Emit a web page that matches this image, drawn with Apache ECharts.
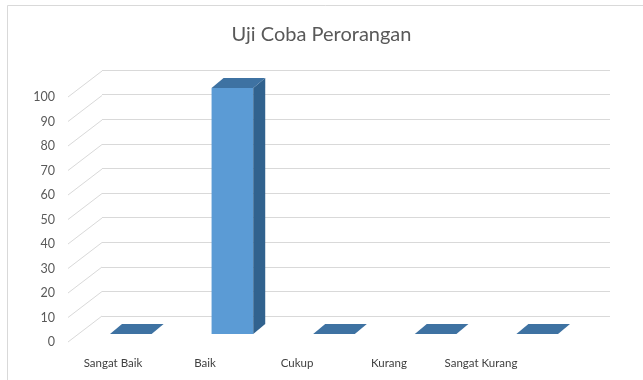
<!DOCTYPE html>
<html>
<head>
<meta charset="utf-8">
<script src="https://cdn.jsdelivr.net/npm/echarts@6/dist/echarts.min.js"></script>
<style>html,body{margin:0;padding:0;background:#fff}#c{width:643px;height:380px}</style>
</head>
<body>
<div id="c"></div>
<script>
const title = 'Uji Coba Perorangan';
const categories = ['Sangat Baik', 'Baik', 'Cukup', 'Kurang', 'Sangat Kurang'];
const values = [0, 100, 0, 0, 0];
const yTicks = [0, 10, 20, 30, 40, 50, 60, 70, 80, 90, 100];

const DEPTH_X = 34, DEPTH_Y = -26;   // side wall depth
const BAR_DX = 12, BAR_DY = -10;     // bar depth
const FONT = 'Lato, "Open Sans", sans-serif';

const chart = echarts.init(document.getElementById('c'), null, {renderer: 'canvas'});
chart.setOption({
  animation: false,
  backgroundColor: '#ffffff',
  title: {
    text: title, left: 'center', top: 20,
    textStyle: {fontFamily: FONT, fontSize: 20, fontWeight: 'normal', color: '#595959'}
  },
  graphic: [{
    type: 'rect', shape: {x: 7.5, y: 5.5, width: 800, height: 500},
    style: {fill: 'none', stroke: '#d9d9d9', lineWidth: 1}, z: -10
  }],
  grid: [
    {left: 102, right: 33, top: 70, bottom: 64},   // back wall
    {left: 68, right: 67, top: 97, bottom: 38},    // front plane (labels + side wall)
    {left: 80, right: 55, top: 88, bottom: 46},    // bar plane
    {left: 67, right: 116, top: 300, bottom: 26}   // category labels
  ],
  xAxis: [
    {gridIndex: 0, type: 'category', data: categories, show: false},
    {gridIndex: 1, type: 'value', min: 0, max: 1, show: false},
    {gridIndex: 2, type: 'category', data: categories, show: false},
    {gridIndex: 3, type: 'category', data: categories,
      axisLine: {show: false}, axisTick: {show: false}, splitLine: {show: false},
      axisLabel: {fontFamily: FONT, fontSize: 11.5, color: '#404040', margin: 3, interval: 0}}
  ],
  yAxis: [
    {gridIndex: 0, type: 'value', min: 0, max: 100, interval: 10,
      axisLine: {show: false}, axisTick: {show: false}, axisLabel: {show: false},
      splitLine: {show: true, lineStyle: {color: '#d9d9d9', width: 1}}},
    {gridIndex: 1, type: 'value', min: 0, max: 100, interval: 10,
      axisLine: {show: false}, axisTick: {show: false}, splitLine: {show: false},
      axisLabel: {fontFamily: FONT, fontSize: 12.5, color: '#595959', margin: 13}},
    {gridIndex: 2, type: 'value', min: 0, max: 100, show: false},
    {gridIndex: 3, type: 'value', show: false}
  ],
  series: [
    {
      type: 'custom', xAxisIndex: 1, yAxisIndex: 1, z: 1,
      data: yTicks.map(v => [0, v]),
      renderItem: function (params, api) {
        const p = api.coord([api.value(0), api.value(1)]);
        return {
          type: 'line',
          shape: {x1: p[0], y1: p[1], x2: p[0] + DEPTH_X, y2: p[1] + DEPTH_Y},
          style: {stroke: '#d9d9d9', lineWidth: 1}
        };
      }
    },
    {
      type: 'custom', xAxisIndex: 2, yAxisIndex: 2, z: 5,
      data: values.map((v, i) => [i, v]),
      renderItem: function (params, api) {
        const i = api.value(0), v = api.value(1);
        const top = api.coord([i, v]);
        const bot = api.coord([i, 0]);
        const w = api.size([1, 0])[0] * 0.41;
        const x0 = top[0] - w / 2, x1 = top[0] + w / 2;
        const yt = top[1], yb = bot[1];
        const children = [];
        if (yb - yt > 0.5) {
          children.push({type: 'rect', shape: {x: x0, y: yt, width: w, height: yb - yt},
            style: {fill: '#5b9bd5'}});
          children.push({type: 'polygon', shape: {points: [[x1, yt], [x1 + BAR_DX, yt + BAR_DY], [x1 + BAR_DX, yb + BAR_DY], [x1, yb]]},
            style: {fill: '#31628e'}});
        }
        children.push({type: 'polygon', shape: {points: [[x0, yt], [x1, yt], [x1 + BAR_DX, yt + BAR_DY], [x0 + BAR_DX, yt + BAR_DY]]},
          style: {fill: '#3e72a2'}});
        return {type: 'group', children: children};
      }
    }
  ]
});
</script>
</body>
</html>
